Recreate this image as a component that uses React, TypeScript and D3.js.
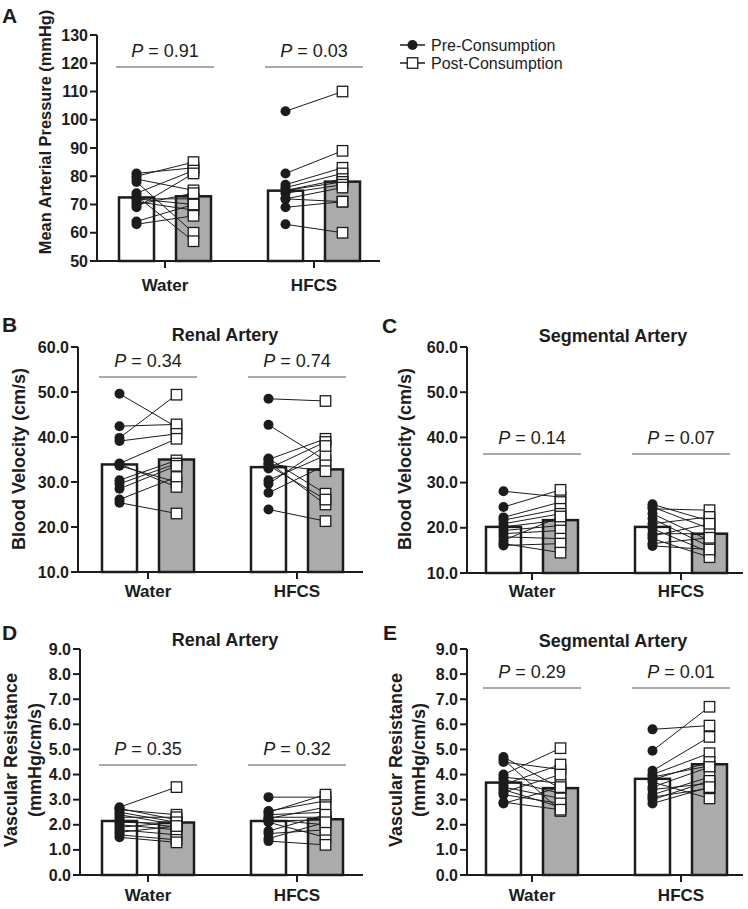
import React from 'react';
import * as d3 from 'd3';

// ---------- DATA ----------
const categories = ['Water', 'HFCS'];

// Panel A: Mean Arterial Pressure (mmHg)
const mapBarPre = [72.5, 74.9];
const mapBarPost = [72.9, 78.1];
const mapWaterPre = [81, 80, 79, 78, 74, 73, 72, 72, 71, 70, 69, 64, 63];
const mapWaterPost = [83, 85, 75, 60, 82, 57, 72, 70, 68, 74, 81, 70, 66];
const mapHfcsPre = [103, 81, 77, 76, 75, 75, 74, 72, 72, 69, 63];
const mapHfcsPost = [110, 89, 83, 81, 79, 78, 77, 76, 71, 71, 60];
const mapPValues = ['0.91', '0.03'];
const mapTicks = [50, 60, 70, 80, 90, 100, 110, 120, 130];

// Panel B: Renal artery blood velocity (cm/s)
const rbvBarPre = [33.9, 33.3];
const rbvBarPost = [35.0, 32.8];
const rbvWaterPre = [49.6, 42.4, 39.8, 39.1, 34.1, 33.6, 30.4, 29.6, 28.5, 26.1, 25.4, 34.0];
const rbvWaterPost = [42.2, 42.8, 49.4, 40.7, 39.6, 30.0, 34.8, 34.1, 33.6, 31.1, 23.0, 28.9];
const rbvHfcsPre = [48.5, 42.7, 35.2, 34.4, 33.7, 35.0, 33.0, 30.4, 29.6, 27.6, 23.9, 34.0];
const rbvHfcsPost = [48.0, 34.8, 27.4, 25.0, 26.1, 39.6, 38.9, 35.9, 38.0, 33.7, 21.3, 32.4];
const rbvPValues = ['0.34', '0.74'];

// Panel C: Segmental artery blood velocity (cm/s)
const sbvBarPre = [20.2, 20.2];
const sbvBarPost = [21.7, 18.7];
const sbvWaterPre = [28.1, 24.6, 22.3, 21.7, 20.9, 20.2, 19.4, 18.7, 18.0, 17.2, 16.1, 16.5];
const sbvWaterPost = [26.8, 28.4, 25.7, 24.2, 23.1, 21.7, 20.5, 19.4, 17.6, 22.5, 16.5, 14.5];
const sbvHfcsPre = [25.2, 24.6, 24.2, 23.1, 22.0, 20.9, 19.8, 18.7, 18.2, 17.6, 16.5, 16.0];
const sbvHfcsPost = [21.5, 19.8, 23.9, 17.2, 15.8, 22.4, 14.6, 18.7, 20.9, 13.5, 17.8, 15.2];
const sbvPValues = ['0.14', '0.07'];
const velocityTicks = [10, 20, 30, 40, 50, 60];

// Panel D: Renal artery vascular resistance (mmHg/cm/s)
const rvrBarPre = [2.15, 2.15];
const rvrBarPost = [2.09, 2.22];
const rvrWaterPre = [2.7, 2.65, 2.6, 2.5, 2.4, 2.3, 2.2, 2.1, 2.0, 1.9, 1.8, 1.7, 1.6, 1.5];
const rvrWaterPost = [3.5, 2.2, 2.4, 2.1, 2.0, 2.3, 1.9, 2.05, 1.8, 2.1, 1.6, 1.95, 1.4, 1.3];
const rvrHfcsPre = [3.1, 2.55, 2.5, 2.4, 2.3, 2.25, 2.2, 2.15, 2.1, 1.75, 1.65, 1.45, 1.35];
const rvrHfcsPost = [3.1, 2.95, 3.2, 2.5, 2.3, 2.7, 2.0, 2.2, 1.5, 2.4, 1.8, 2.1, 1.2];
const rvrPValues = ['0.35', '0.32'];

// Panel E: Segmental artery vascular resistance (mmHg/cm/s)
const svrBarPre = [3.68, 3.83];
const svrBarPost = [3.46, 4.41];
const svrWaterPre = [4.7, 4.6, 4.5, 4.0, 3.9, 3.8, 3.6, 3.5, 3.4, 3.3, 3.2, 2.9, 2.85];
const svrWaterPost = [3.45, 2.55, 4.2, 5.05, 3.65, 3.25, 4.4, 3.05, 2.7, 4.0, 2.85, 2.6, 3.5];
const svrHfcsPre = [5.8, 4.95, 4.15, 4.0, 3.9, 3.8, 3.7, 3.5, 3.4, 3.2, 3.1, 3.0, 2.85];
const svrHfcsPost = [5.95, 6.7, 5.5, 4.85, 4.35, 4.5, 3.05, 4.3, 3.65, 3.9, 3.45, 3.75, 3.5];
const svrPValues = ['0.29', '0.01'];
const resistanceTicks = [0, 1, 2, 3, 4, 5, 6, 7, 8, 9];

const legendLabels = ['Pre-Consumption', 'Post-Consumption'];

// ---------- STYLE ----------
const FONT = '"Liberation Sans", Arial, Helvetica, sans-serif';
const INK = '#1c1c1c';
const GREY = '#ababab';

type PanelCfg = {
  letter: string;
  letterX: number;
  letterY: number;
  title?: string;
  titleX?: number;
  titleY?: number;
  yLabel: string[];
  yLabelX: number[];
  yLabelY: number;
  yLabelSize: number;
  axisX: number;
  axisEnd: number;
  yTop: number;
  yBottom: number;
  domain: [number, number];
  ticks: number[];
  fmt: (v: number) => string;
  centers: [number, number];
  barPre: number[];
  barPost: number[];
  pre: number[][];
  post: number[][];
  pValues: string[];
  pLineY: number;
  xLabelY: number;
};

const panels: PanelCfg[] = [
  {
    letter: 'A', letterX: 2, letterY: 23,
    yLabel: ['Mean Arterial Pressure (mmHg)'], yLabelX: [45], yLabelY: 132, yLabelSize: 16.4,
    axisX: 97, axisEnd: 380, yTop: 35, yBottom: 261, domain: [50, 130],
    ticks: mapTicks, fmt: d3.format('d'), centers: [165, 314],
    barPre: mapBarPre, barPost: mapBarPost,
    pre: [mapWaterPre, mapHfcsPre], post: [mapWaterPost, mapHfcsPost],
    pValues: mapPValues, pLineY: 67, xLabelY: 291,
  },
  {
    letter: 'B', letterX: 2, letterY: 332, title: 'Renal Artery', titleX: 225, titleY: 341,
    yLabel: ['Blood Velocity (cm/s)'], yLabelX: [19], yLabelY: 459, yLabelSize: 18,
    axisX: 78, axisEnd: 363, yTop: 347, yBottom: 572, domain: [10, 60],
    ticks: velocityTicks, fmt: d3.format('.1f'), centers: [148, 297],
    barPre: rbvBarPre, barPost: rbvBarPost,
    pre: [rbvWaterPre, rbvHfcsPre], post: [rbvWaterPost, rbvHfcsPost],
    pValues: rbvPValues, pLineY: 377, xLabelY: 597,
  },
  {
    letter: 'C', letterX: 382, letterY: 333, title: 'Segmental Artery', titleX: 613, titleY: 342,
    yLabel: ['Blood Velocity (cm/s)'], yLabelX: [405], yLabelY: 459, yLabelSize: 18,
    axisX: 467, axisEnd: 743, yTop: 347, yBottom: 573, domain: [10, 60],
    ticks: velocityTicks, fmt: d3.format('.1f'), centers: [532, 681],
    barPre: sbvBarPre, barPost: sbvBarPost,
    pre: [sbvWaterPre, sbvHfcsPre], post: [sbvWaterPost, sbvHfcsPost],
    pValues: sbvPValues, pLineY: 454, xLabelY: 597,
  },
  {
    letter: 'D', letterX: 2, letterY: 640, title: 'Renal Artery', titleX: 225, titleY: 646,
    yLabel: ['Vascular Resistance', '(mmHg/cm/s)'], yLabelX: [11, 35], yLabelY: 760, yLabelSize: 18,
    axisX: 80, axisEnd: 363, yTop: 649, yBottom: 875, domain: [0, 9],
    ticks: resistanceTicks, fmt: d3.format('.1f'), centers: [148, 297],
    barPre: rvrBarPre, barPost: rvrBarPost,
    pre: [rvrWaterPre, rvrHfcsPre], post: [rvrWaterPost, rvrHfcsPost],
    pValues: rvrPValues, pLineY: 765, xLabelY: 901,
  },
  {
    letter: 'E', letterX: 383, letterY: 640, title: 'Segmental Artery', titleX: 613, titleY: 647,
    yLabel: ['Vascular Resistance', '(mmHg/cm/s)'], yLabelX: [396, 419], yLabelY: 760, yLabelSize: 18,
    axisX: 467, axisEnd: 743, yTop: 649, yBottom: 875, domain: [0, 9],
    ticks: resistanceTicks, fmt: d3.format('.1f'), centers: [532, 681],
    barPre: svrBarPre, barPost: svrBarPost,
    pre: [svrWaterPre, svrHfcsPre], post: [svrWaterPost, svrHfcsPost],
    pValues: svrPValues, pLineY: 688, xLabelY: 901,
  },
];

const BAR_OFFSET = 28.5;
const BAR_W = 35;
const R = 5;
const SQ = 10.5;

function Panel({ cfg }: { cfg: PanelCfg }) {
  const y = d3.scaleLinear().domain(cfg.domain).range([cfg.yBottom, cfg.yTop]);
  const x = d3.scalePoint<string>().domain(categories).range(cfg.centers);
  const preX = (c: string) => (x(c) as number) - BAR_OFFSET;
  const postX = (c: string) => (x(c) as number) + BAR_OFFSET;

  return (
    <g>
      <text x={cfg.letterX} y={cfg.letterY} fontSize={21} fontWeight="bold" fill={INK}>{cfg.letter}</text>
      {cfg.title && (
        <text x={cfg.titleX} y={cfg.titleY} fontSize={18} fontWeight="bold" textAnchor="middle" fill={INK}>{cfg.title}</text>
      )}
      {cfg.yLabel.map((l, i) => (
        <text key={l} transform={`translate(${cfg.yLabelX[i]},${cfg.yLabelY}) rotate(-90)`} textAnchor="middle"
          dominantBaseline="central" fontSize={cfg.yLabelSize} fontWeight="bold" fill={INK}>{l}</text>
      ))}
      {/* bars */}
      {categories.map((c, i) => (
        <g key={c}>
          <rect x={preX(c) - BAR_W / 2} y={y(cfg.barPre[i])} width={BAR_W} height={cfg.yBottom - y(cfg.barPre[i])}
            fill="#fff" stroke={INK} strokeWidth={2.5} />
          <rect x={postX(c) - BAR_W / 2} y={y(cfg.barPost[i])} width={BAR_W} height={cfg.yBottom - y(cfg.barPost[i])}
            fill={GREY} stroke={INK} strokeWidth={2.5} />
        </g>
      ))}
      {/* axes */}
      <line x1={cfg.axisX} x2={cfg.axisX} y1={cfg.yTop} y2={cfg.yBottom + 1} stroke={INK} strokeWidth={2} />
      <line x1={cfg.axisX - 1} x2={cfg.axisEnd} y1={cfg.yBottom} y2={cfg.yBottom} stroke={INK} strokeWidth={2} />
      {cfg.ticks.map((t) => (
        <g key={t}>
          <line x1={cfg.axisX - 7} x2={cfg.axisX} y1={y(t)} y2={y(t)} stroke={INK} strokeWidth={2} />
          <text x={cfg.axisX - 9} y={y(t)} textAnchor="end" dominantBaseline="central" fontSize={16}
            fontWeight="bold" fill={INK}>{cfg.fmt(t)}</text>
        </g>
      ))}
      {categories.map((c) => (
        <g key={c}>
          <line x1={x(c)} x2={x(c)} y1={cfg.yBottom} y2={cfg.yBottom + 7} stroke={INK} strokeWidth={2} />
          <text x={x(c)} y={cfg.xLabelY} textAnchor="middle" fontSize={17} fontWeight="bold" fill={INK}>{c}</text>
        </g>
      ))}
      {/* P values */}
      {categories.map((c, i) => (
        <g key={c}>
          <line x1={(x(c) as number) - 49} x2={(x(c) as number) + 49} y1={cfg.pLineY} y2={cfg.pLineY}
            stroke="#555" strokeWidth={1.2} />
          <text x={x(c)} y={cfg.pLineY - 10.5} textAnchor="middle" fontSize={18} fill={INK}>
            <tspan fontStyle="italic">P</tspan> = {cfg.pValues[i]}
          </text>
        </g>
      ))}
      {/* paired lines */}
      {categories.map((c, i) => (
        <g key={c}>
          {cfg.pre[i].map((v, j) => (
            <line key={j} x1={preX(c)} y1={y(v)} x2={postX(c)} y2={y(cfg.post[i][j])} stroke={INK} strokeWidth={1} />
          ))}
        </g>
      ))}
      {/* points */}
      {categories.map((c, i) => (
        <g key={c}>
          {cfg.pre[i].map((v, j) => (
            <circle key={'a' + j} cx={preX(c)} cy={y(v)} r={R} fill={INK} />
          ))}
          {cfg.post[i].map((v, j) => (
            <rect key={'b' + j} x={postX(c) - SQ / 2} y={y(v) - SQ / 2} width={SQ} height={SQ} fill="#fff"
              stroke={INK} strokeWidth={1.3} />
          ))}
        </g>
      ))}
    </g>
  );
}

function Legend() {
  const x0 = 400;
  const ys = [45, 63];
  return (
    <g>
      {legendLabels.map((l, i) => (
        <g key={l}>
          <line x1={x0} x2={x0 + 25} y1={ys[i]} y2={ys[i]} stroke={INK} strokeWidth={1.5} />
          {i === 0 ? (
            <circle cx={x0 + 12.5} cy={ys[i]} r={R} fill={INK} />
          ) : (
            <rect x={x0 + 12.5 - SQ / 2} y={ys[i] - SQ / 2} width={SQ} height={SQ} fill="#fff" stroke={INK} strokeWidth={1.3} />
          )}
          <text x={x0 + 31} y={ys[i]} dominantBaseline="central" fontSize={16} fill={INK}>{l}</text>
        </g>
      ))}
    </g>
  );
}

export default function App() {
  return (
    <svg width={748} height={909} style={{ position: 'absolute', left: 0, top: 0, background: '#fff' }}
      fontFamily={FONT}>
      <rect width={748} height={909} fill="#fff" />
      {panels.map((p) => (
        <Panel key={p.letter} cfg={p} />
      ))}
      <Legend />
    </svg>
  );
}
